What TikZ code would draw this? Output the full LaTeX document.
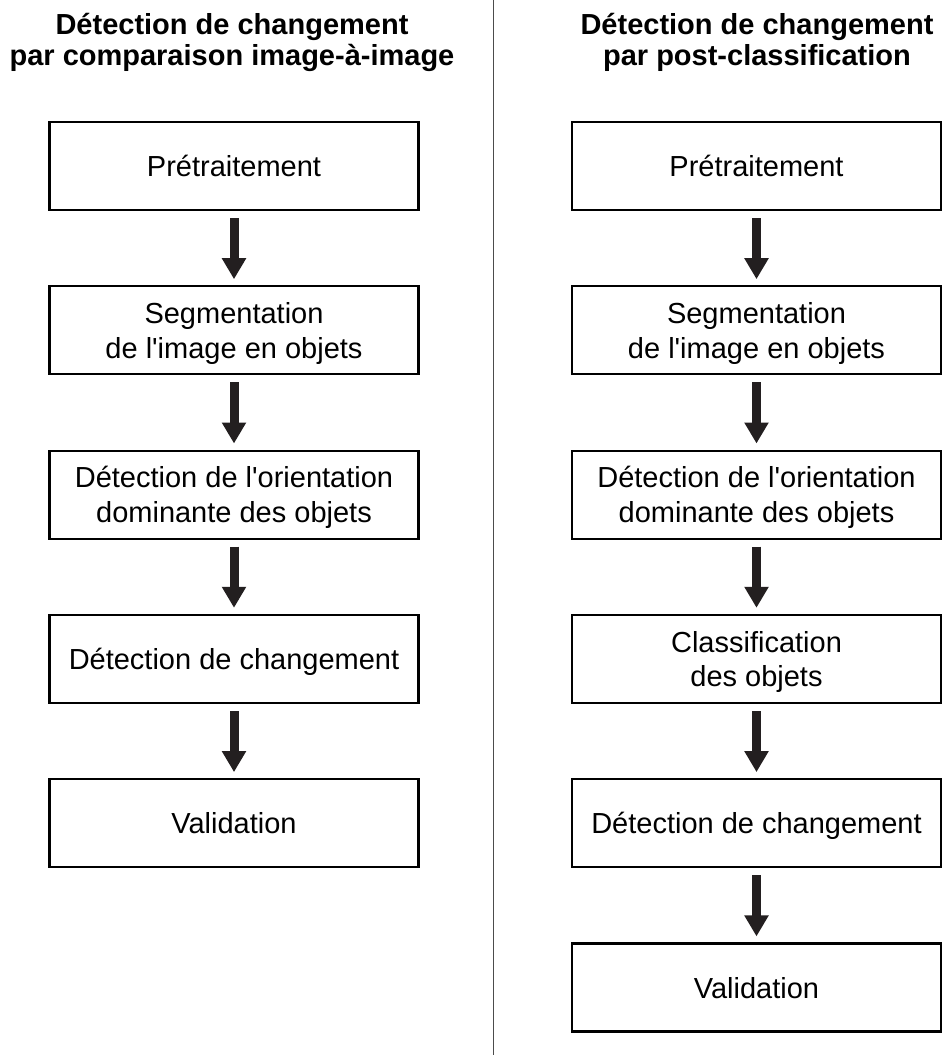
\documentclass[tikz,border=0pt]{standalone}
\usepackage{fontspec}
\setmainfont{Liberation Sans}[Ligatures=TeXOff]
\usetikzlibrary{arrows.meta}
\definecolor{ink}{HTML}{231F20}
\tikzset{
  stepbox/.style={draw=black, line width=2.2pt, minimum width=369pt, minimum height=88pt,
    inner sep=0pt, align=center, text depth=0pt, font=\fontsize{29}{34.6}\selectfont},
  titlenode/.style={align=center, inner sep=0pt, font=\fontsize{29}{31}\selectfont\bfseries},
  flowarrow/.style={draw=ink, line width=9pt, shorten <=7pt, shorten >=6pt,
    -{Triangle[width=23pt,length=21pt]}, ink},
}
\begin{document}
\begin{tikzpicture}[x=1pt,y=-1pt]
\useasboundingbox (0,0) rectangle (942,1055);
\fill[white] (0,0) rectangle (942,1055);
% divider
\coordinate (dtop) at (493,0);
\coordinate (dbot) at (493,1055);
\draw[line width=1pt, black!70] (dtop) -- (dbot);
% titles
\node[titlenode, anchor=base] (tl) at (232,65) {D\'etection de changement\\par comparaison image-\`a-image};
\node[titlenode, anchor=base] (tr) at (757,65) {D\'etection de changement\\par post-classification};
% left column
\node[stepbox] (l1) at (234,166) {Pr\'etraitement};
\node[stepbox] (l2) at (234,330.3) {Segmentation\\de l'image en objets};
\node[stepbox] (l3) at (234,494.6) {D\'etection de l'orientation\\dominante des objets};
\node[stepbox] (l4) at (234,658.9) {D\'etection de changement};
\node[stepbox] (l5) at (234,823.2) {Validation};
% right column
\node[stepbox] (r1) at (756.5,166) {Pr\'etraitement};
\node[stepbox] (r2) at (756.5,330.3) {Segmentation\\de l'image en objets};
\node[stepbox] (r3) at (756.5,494.6) {D\'etection de l'orientation\\dominante des objets};
\node[stepbox] (r4) at (756.5,658.9) {Classification\\des objets};
\node[stepbox] (r5) at (756.5,823.2) {D\'etection de changement};
\node[stepbox] (r6) at (756.5,987.5) {Validation};
% arrows
\foreach \a/\b in {l1/l2,l2/l3,l3/l4,l4/l5,r1/r2,r2/r3,r3/r4,r4/r5,r5/r6}
  \draw[flowarrow] (\a.south) -- (\b.north);
\end{tikzpicture}
\end{document}
